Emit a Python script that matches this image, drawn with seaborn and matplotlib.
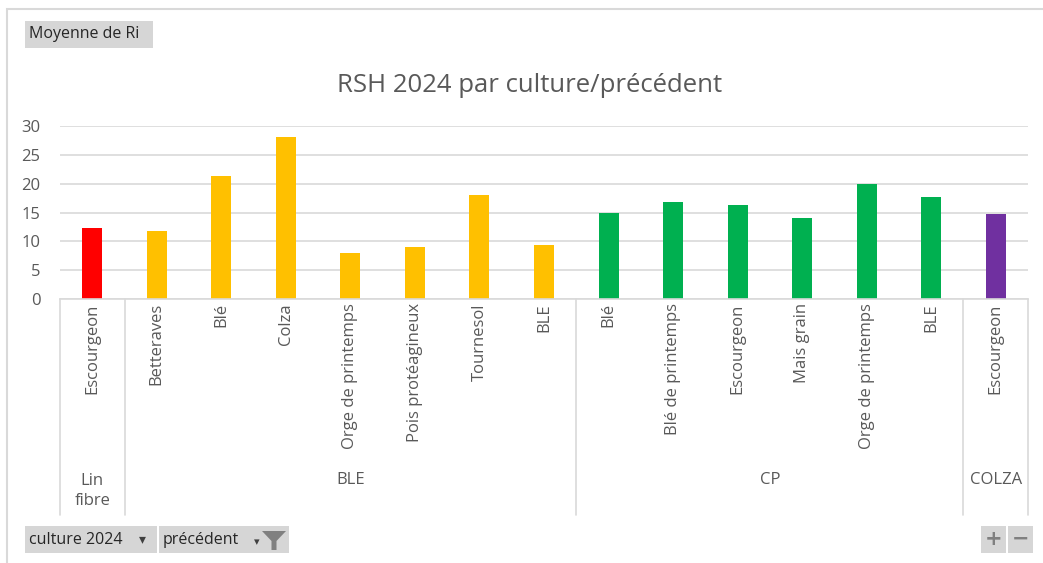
import pandas as pd
import numpy as np
import seaborn as sns
import matplotlib.pyplot as plt
from matplotlib.patches import Rectangle, Polygon
from matplotlib.transforms import blended_transform_factory

# données
groupes = ['Lin fibre'] + ['BLE'] * 7 + ['CP'] * 6 + ['COLZA']
precedents = ['Escourgeon',
              'Betteraves', 'Blé', 'Colza', 'Orge de printemps', 'Pois protéagineux', 'Tournesol', 'BLE',
              'Blé', 'Blé de printemps', 'Escourgeon', 'Mais grain', 'Orge de printemps', 'BLE',
              'Escourgeon']
rsh = [12.4,
       11.8, 21.4, 28.2, 8.0, 9.1, 18.1, 9.4,
       14.9, 16.9, 16.3, 14.0, 20.0, 17.7,
       14.8]
couleurs = {'Lin fibre': '#FF0000', 'BLE': '#FFC000', 'CP': '#00B050', 'COLZA': '#7030A0'}
noms_groupes = ['Lin\nfibre', 'BLE', 'CP', 'COLZA']

df = pd.DataFrame({'groupe': groupes, 'precedent': precedents, 'RSH': rsh})
df['cle'] = [f"{g}|{p}|{i}" for i, (g, p) in enumerate(zip(groupes, precedents))]

sns.set_style('white')
plt.rcParams['font.family'] = ['Open Sans', 'DejaVu Sans']
gris = '#595959'

W, H = 1043, 563
fig = plt.figure(figsize=(W / 100, H / 100), dpi=100)

def fx(x):
    return x / W

def fy(y):
    return 1 - y / H

# zone du graphique
x0, x1, y0, y1 = 60, 1028, 126.3, 299
ax = fig.add_axes([fx(x0), fy(y1), fx(x1) - fx(x0), (y1 - y0) / H])
sns.barplot(data=df, x='cle', y='RSH', hue='groupe', palette=couleurs, dodge=False,
            width=0.31, legend=False, ax=ax, saturation=1, edgecolor='none')
ax.set_ylim(0, 30)
ax.set_xlim(-0.5, len(rsh) - 0.5)
ax.set_yticks(range(0, 31, 5))
ax.yaxis.grid(True, color='#d9d9d9', lw=1.2)
ax.set_axisbelow(True)
for s in ['top', 'right', 'left']:
    ax.spines[s].set_visible(False)
ax.spines['bottom'].set_color('#d9d9d9')
ax.spines['bottom'].set_linewidth(1.2)
ax.set_xlabel('')
ax.set_ylabel('')
ax.set_xticks(range(len(rsh)))
ax.set_xticklabels(precedents, rotation=90, fontsize=12, color=gris)
ax.tick_params(axis='x', length=0, pad=3)
ax.tick_params(axis='y', length=0, pad=14, labelsize=12, labelcolor=gris)

# séparateurs et noms de groupes
tr = blended_transform_factory(ax.transData, ax.transAxes)
hpx = y1 - y0
bas = -(515 - y1) / hpx
for xs in [-0.5, 0.5, 7.5, 13.5, 14.5]:
    ax.plot([xs, xs], [0, bas], transform=tr, color='#d9d9d9', lw=1.2, clip_on=False)
debut = 0
pos_groupes = []
for g in ['Lin fibre', 'BLE', 'CP', 'COLZA']:
    n = groupes.count(g)
    pos_groupes.append(debut + (n - 1) / 2)
    debut += n
for nom, xp in zip(noms_groupes, pos_groupes):
    yc = (491 if '\n' in nom else 480)
    ax.text(xp, -(yc - y1) / hpx, nom, transform=tr, ha='center', va='center',
            fontsize=12, color=gris, linespacing=1.35)

# titre
fig.text(fx(530), fy(85), 'RSH 2024 par culture/précédent', ha='center', va='center',
         fontsize=18.5, color=gris)

# cadre
fig.add_artist(Rectangle((fx(7), fy(600)), fx(1060) - fx(7), fy(9) - fy(600),
                         transform=fig.transFigure, fill=False, edgecolor='#d9d9d9', lw=1.5))

# boutons
def bouton(xa, ya, xb, yb, texte=None, dx=4, fs=11.5):
    fig.add_artist(Rectangle((fx(xa), fy(yb)), fx(xb) - fx(xa), fy(ya) - fy(yb),
                             transform=fig.transFigure, facecolor='#d6d6d6', edgecolor='none'))
    if texte:
        fig.text(fx(xa + dx), fy((ya + yb) / 2), texte, ha='left', va='center',
                 fontsize=fs, color='#262626')

bouton(25, 21, 153, 48, 'Moyenne de Ri')
bouton(25, 526, 157, 553, 'culture 2024')
fig.text(fx(142), fy(539), '▾', ha='center', va='center', fontsize=10, color='#404040',
         family='DejaVu Sans')
bouton(159, 526, 289, 553, 'précédent')
fig.text(fx(257), fy(542), '▾', ha='center', va='center', fontsize=8, color='#404040',
         family='DejaVu Sans')
fig.add_artist(Polygon([[fx(262), fy(531)], [fx(286), fy(531)], [fx(276.5), fy(541)],
                        [fx(276.5), fy(550)], [fx(271.5), fy(550)], [fx(271.5), fy(541)]],
                       closed=True, transform=fig.transFigure, facecolor='#808080', edgecolor='none'))
bouton(981, 526, 1006, 553)
bouton(1008, 526, 1033, 553)
fig.text(fx(993.5), fy(539), '+', ha='center', va='center', fontsize=15, color='#808080',
         family='DejaVu Sans', weight='bold')
fig.text(fx(1020.5), fy(539), '−', ha='center', va='center', fontsize=15, color='#808080',
         family='DejaVu Sans', weight='bold')

fig.savefig('out.png', dpi=100)
